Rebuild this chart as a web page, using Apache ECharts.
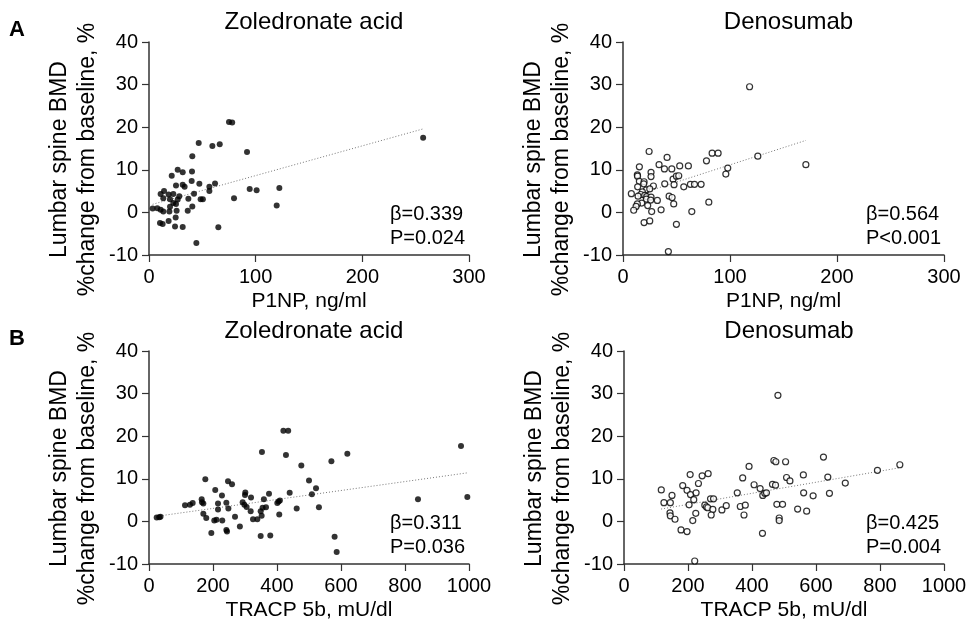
<!DOCTYPE html>
<html>
<head>
<meta charset="utf-8">
<script src="https://cdn.jsdelivr.net/npm/echarts@6/dist/echarts.min.js"></script>
<style>
html,body{margin:0;padding:0;background:#fff;}
#chart{width:970px;height:626px;}
</style>
</head>
<body>
<div id="chart"></div>
<script>
// ---- data ----
const panelTitles = ['Zoledronate acid', 'Denosumab', 'Zoledronate acid', 'Denosumab'];
const xNames = ['P1NP, ng/ml', 'P1NP, ng/ml', 'TRACP 5b, mU/dl', 'TRACP 5b, mU/dl'];
const yName = 'Lumbar spine BMD\n%change from baseline, %';
const statsBeta = ['β=0.339', 'β=0.564', 'β=0.311', 'β=0.425'];
const statsP = ['P=0.024', 'P<0.001', 'P=0.036', 'P=0.004'];
const yTicks = [-10, 0, 10, 20, 30, 40];
const xTicksP1NP = [0, 100, 200, 300];
const xTicksTRACP = [0, 200, 400, 600, 800, 1000];

const zolP1NP = [[75,21.2],[78,21.1],[46.6,16.3],[59.4,15.6],[66.3,16.0],[91.9,14.2],[40.6,13.2],[26.9,10.0],[31.6,9.4],[40.3,9.6],[21.3,8.6],[40,7.4],[47.2,6.7],[25.3,6.3],[31.6,6.5],[33.4,6.0],[61.9,6.8],[56.6,6.0],[56.6,5.0],[94.4,5.5],[100.9,5.2],[122.2,5.7],[79.7,3.3],[119.7,1.6],[14.1,5.0],[10.9,4.3],[18.4,4.2],[22.8,4.3],[28.4,3.8],[42.2,4.4],[13.4,3.3],[19.7,3.1],[26.9,3.0],[36.9,3.2],[48.4,3.1],[50.5,3.1],[3.4,0.9],[7.8,1.0],[10.9,0.6],[13.4,0.2],[19.1,0.2],[19.7,1.3],[25.9,0.4],[22.8,2.2],[25.3,2.0],[36.3,0.4],[40.6,1.4],[10.3,-2.5],[12.8,-2.7],[18.4,-2.0],[25,-1.2],[24.4,-3.3],[31.6,-3.4],[65,-3.5],[44.4,-7.2],[257,17.5]];
const denP1NP = [[118.3,29.5],[24.4,14.3],[41.2,12.9],[83.3,13.9],[88.9,13.9],[78,12.1],[126,13.2],[15.3,10.7],[33.7,11.2],[38.7,10.2],[45.6,10.2],[53,10.9],[61.1,10.9],[97.9,10.4],[96.1,9.0],[13.4,8.8],[13.6,8.5],[26.2,9.4],[26.2,8.4],[15.3,7.3],[19.7,7.2],[19.4,6.7],[13.7,6.0],[28.4,6.2],[39,6.7],[46.8,7.8],[49.9,8.5],[52.1,8.6],[47.7,6.5],[56.8,6.0],[63,6.6],[66.8,6.6],[73,6.6],[21.9,5.3],[25,5.5],[18.1,4.8],[7.8,4.4],[16.6,4.2],[20.3,4.0],[14.1,3.8],[22.2,3.7],[26.2,3.6],[21.9,3.1],[25.9,2.9],[32.1,2.8],[43.1,3.8],[45.9,3.5],[17.5,2.2],[13.4,2.0],[12.2,1.4],[10,0.5],[23.1,1.6],[26.8,0.2],[35.6,0.6],[47.4,2.0],[80.2,2.4],[64.3,0.2],[19.7,-2.4],[25,-2.0],[49.9,-2.8],[42.4,-9.2],[170.9,11.2]];
const zolTRACP = [[24,0.9],[32,1.0],[36,1.1],[112.5,3.8],[128,3.9],[136.5,4.3],[164.6,5.2],[165.6,4.5],[169.8,4.2],[176,9.9],[169.8,1.8],[179,0.8],[194.8,-2.7],[204,0.2],[211,0.4],[207,7.4],[215.6,4.2],[215.6,2.8],[228,6.1],[229,0.2],[241.7,4.4],[246.9,9.4],[259.4,8.7],[248,3.0],[241.7,-2.0],[243.8,-2.4],[268.8,1.1],[284,-1.2],[292.7,4.5],[301,6.8],[300,6.2],[298,3.9],[305,3.4],[318.8,5.6],[317.7,2.4],[325,0.5],[338.5,0.5],[349,2.4],[352,1.3],[353,16.3],[349,-3.4],[355,3.2],[359,5.2],[365.6,3.3],[375,6.5],[379,-3.3],[401,4.3],[405,4.7],[409,4.9],[407,1.6],[420,21.3],[435,21.3],[428,15.6],[439.6,6.7],[461.5,3.0],[476,13.1],[500,9.6],[509,6.4],[521.9,7.8],[531,3.3],[570,14.1],[580,-3.6],[586.5,-7.2],[619.8,15.9],[975,17.7],[840.6,5.2],[994.8,5.7]];
const denTRACP = [[481,29.6],[116.5,7.4],[124.8,4.4],[144.8,4.4],[150,6.1],[143.7,2.0],[144.7,1.3],[159.4,0.5],[183.5,8.4],[197,7.3],[206.7,11.0],[207.8,6.3],[218,5.1],[225.3,6.7],[203.4,3.9],[224.3,1.9],[214.9,0.2],[178.2,-2.0],[197,-2.4],[221,-9.3],[232.6,8.9],[244.2,10.7],[263,11.2],[252.6,3.8],[257.8,3.4],[262,3.2],[270.4,5.3],[279.8,5.3],[277.6,2.8],[272.5,1.5],[306,2.7],[319.6,3.7],[354,6.7],[363.4,3.5],[379,3.8],[375,1.5],[370.9,10.2],[390.8,12.9],[406.5,8.6],[425.4,7.7],[433.7,6.1],[440,6.6],[445.2,6.7],[432.7,-2.8],[464,8.7],[473.5,8.5],[468.3,14.3],[474.5,14.0],[505,14.0],[508,10.3],[518.5,9.5],[477.7,4.0],[495.5,4.0],[485,0.8],[485,0.2],[542.6,2.9],[623.3,15.1],[560.5,10.9],[636.9,10.4],[691.5,9.0],[561.4,6.7],[591,6.0],[642,6.6],[570.8,2.4],[792,12.0],[862,13.3]];

const trendZolP1NP = [[3.4,1.9],[257,19.6]];
const trendDenP1NP = [[7.8,3.7],[170.9,16.9]];
const trendZolTRACP = [[24,1.2],[995,11.4]];
const trendDenTRACP = [[116,2.9],[862,12.6]];

// ---- layout ----
const FONT = '"Liberation Sans", Arial, sans-serif';
const grids = [
  {left:149, top:42, width:320, height:213},
  {left:623, top:42, width:321, height:213},
  {left:149, top:351, width:320, height:213},
  {left:624, top:351, width:320, height:213}
];
const scatterData = [zolP1NP, denP1NP, zolTRACP, denTRACP];
const trends = [trendZolP1NP, trendDenP1NP, trendZolTRACP, trendDenTRACP];
const xMax = [300, 300, 1000, 1000];
const xInt = [100, 100, 200, 200];
const filled = [true, false, true, false];

const axisLineStyle = {color:'#333', width:1.5};
const option = {
  animation:false,
  backgroundColor:'#fff',
  textStyle:{fontFamily:FONT},
  grid: grids.map(g => Object.assign({containLabel:false}, g)),
  title: grids.map((g,i) => ({
    text: panelTitles[i],
    left: g.left + g.width/2, top: g.top - 37, textAlign:'center',
    textStyle:{fontFamily:FONT, fontSize:24, fontWeight:'normal', color:'#000'}
  })),
  xAxis: grids.map((g,i) => ({
    gridIndex:i, type:'value', min:0, max:xMax[i], interval:xInt[i],
    name: xNames[i], nameLocation:'middle', nameGap:36,
    nameTextStyle:{fontFamily:FONT, fontSize:21, color:'#000'},
    axisLine:{show:true, onZero:false, lineStyle:axisLineStyle},
    axisTick:{show:true, length:7, lineStyle:{color:'#333', width:1.2}},
    axisLabel:{fontFamily:FONT, fontSize:20, color:'#000', margin:12, formatter: v => String(v)},
    splitLine:{show:false}
  })),
  yAxis: grids.map((g,i) => ({
    gridIndex:i, type:'value', min:-10, max:40, interval:10,
    axisLine:{show:true, onZero:false, lineStyle:axisLineStyle},
    axisTick:{show:true, length:7, lineStyle:{color:'#333', width:1.2}},
    axisLabel:{fontFamily:FONT, fontSize:20, color:'#000', margin:11, formatter: v => String(v)},
    splitLine:{show:false}
  })),
  series: [],
  graphic: []
};

scatterData.forEach((d,i) => {
  option.series.push({
    type:'line', xAxisIndex:i, yAxisIndex:i, data:trends[i], symbol:'none',
    lineStyle:{color:'#777', width:1, type:[1,2]}, z:1, silent:true
  });
  option.series.push({
    type:'scatter', xAxisIndex:i, yAxisIndex:i, data:d, symbol:'circle',
    symbolSize: 6,
    itemStyle: filled[i] ? {color:'#000'} : {color:'#fff', borderColor:'#000', borderWidth:1.2},
    z:2
  });
  const g = grids[i];
  option.graphic.push({type:'text', left: (i%2===0) ? 390 : 866, top: g.top + 162,
    style:{text:statsBeta[i], font:'20px '+FONT, fill:'#000'}});
  option.graphic.push({type:'text', left: (i%2===0) ? 390 : 866, top: g.top + 186,
    style:{text:statsP[i], font:'20px '+FONT, fill:'#000'}});
  // y axis name (two lines, rotated)
  option.graphic.push({type:'text', x: g.left - 75, y: g.top + g.height/2 + 11, rotation: Math.PI/2,
    style:{text:yName, font:'23px '+FONT, fill:'#000', align:'center', verticalAlign:'middle', lineHeight:28}});
});
option.graphic.push({type:'text', left:9, top:19, style:{text:'A', font:'bold 22px '+FONT, fill:'#000'}});
option.graphic.push({type:'text', left:9, top:328, style:{text:'B', font:'bold 22px '+FONT, fill:'#000'}});

const chart = echarts.init(document.getElementById('chart'), null, {renderer:'canvas'});
chart.setOption(option);
</script>
</body>
</html>
